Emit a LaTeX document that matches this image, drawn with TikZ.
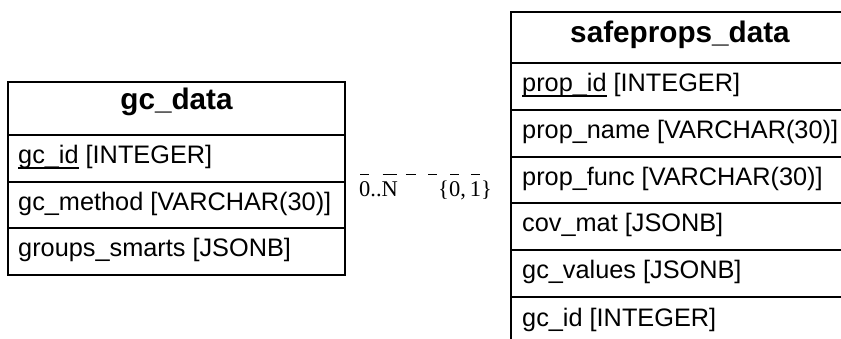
\documentclass[tikz,border=0pt]{standalone}
\usepackage{fontspec}
\newfontfamily\arial{Liberation Sans}
\newfontfamily\timesf{Liberation Serif}
\newcommand\ulfield[1]{\setbox0\hbox{#1}\rlap{\rule[-4.6pt]{\wd0}{1.4pt}}\box0\relax}
\newcommand\barred[1]{\setbox0\hbox{#1}\rlap{\hspace{1pt}\rule[22pt]{\dimexpr\wd0-2pt\relax}{0.9pt}}\box0\relax}
\begin{document}
\begin{tikzpicture}[x=1pt,y=-1pt,
  tbl/.style={line width=1.8pt,line join=miter},
  field/.style={anchor=base west,inner sep=0pt,font=\arial\fontsize{25.3}{30}\selectfont},
  tabtitle/.style={anchor=base,inner sep=0pt,font=\arial\bfseries\fontsize{29.7}{35}\selectfont},
  card/.style={anchor=base west,inner sep=0pt,font=\timesf\fontsize{22.5}{27}\selectfont}]
\clip (0,0) rectangle (841,339);
% gc_data table
\draw[tbl] (8,82) rectangle (345,275);
\foreach \yy in {135,182,228} \draw[tbl] (8,\yy) -- (345,\yy);
\node[tabtitle] (gcTitle) at (176.5,110) {gc\_data};
\node[field] (gcId) at (18,164) {\ulfield{gc\_id} [INTEGER]};
\node[field] (gcMethod) at (18,211) {gc\_method [VARCHAR(30)]};
\node[field] (gcGroups) at (18,257) {groups\_smarts [JSONB]};
% safeprops_data table
\draw[tbl] (511,12) rectangle (849,345);
\foreach \yy in {63,110,157,203,250,297} \draw[tbl] (511,\yy) -- (849,\yy);
\node[tabtitle] (spTitle) at (680,43) {safeprops\_data};
\node[field] (spId) at (522,92) {\ulfield{prop\_id} [INTEGER]};
\node[field] (spName) at (522,139) {prop\_name [VARCHAR(30)]};
\node[field] (spFunc) at (522,186) {prop\_func [VARCHAR(30)]};
\node[field] (spCov) at (522,232) {cov\_mat [JSONB]};
\node[field] (spGc) at (522,279) {gc\_values [JSONB]};
\node[field] (spGcId) at (522,326) {gc\_id [INTEGER]};
% cardinality labels
\node[card] (cardMany) at (359,197) {\barred{0}..\barred{N}\hspace{8pt}\rule[22pt]{10pt}{0.9pt}};
\node[card] (cardOne) at (428,197) {\rule[22pt]{9pt}{0.9pt}\hspace{1pt}\{\barred{0},\hspace{4pt}\barred{1}\}};
\end{tikzpicture}
\end{document}
